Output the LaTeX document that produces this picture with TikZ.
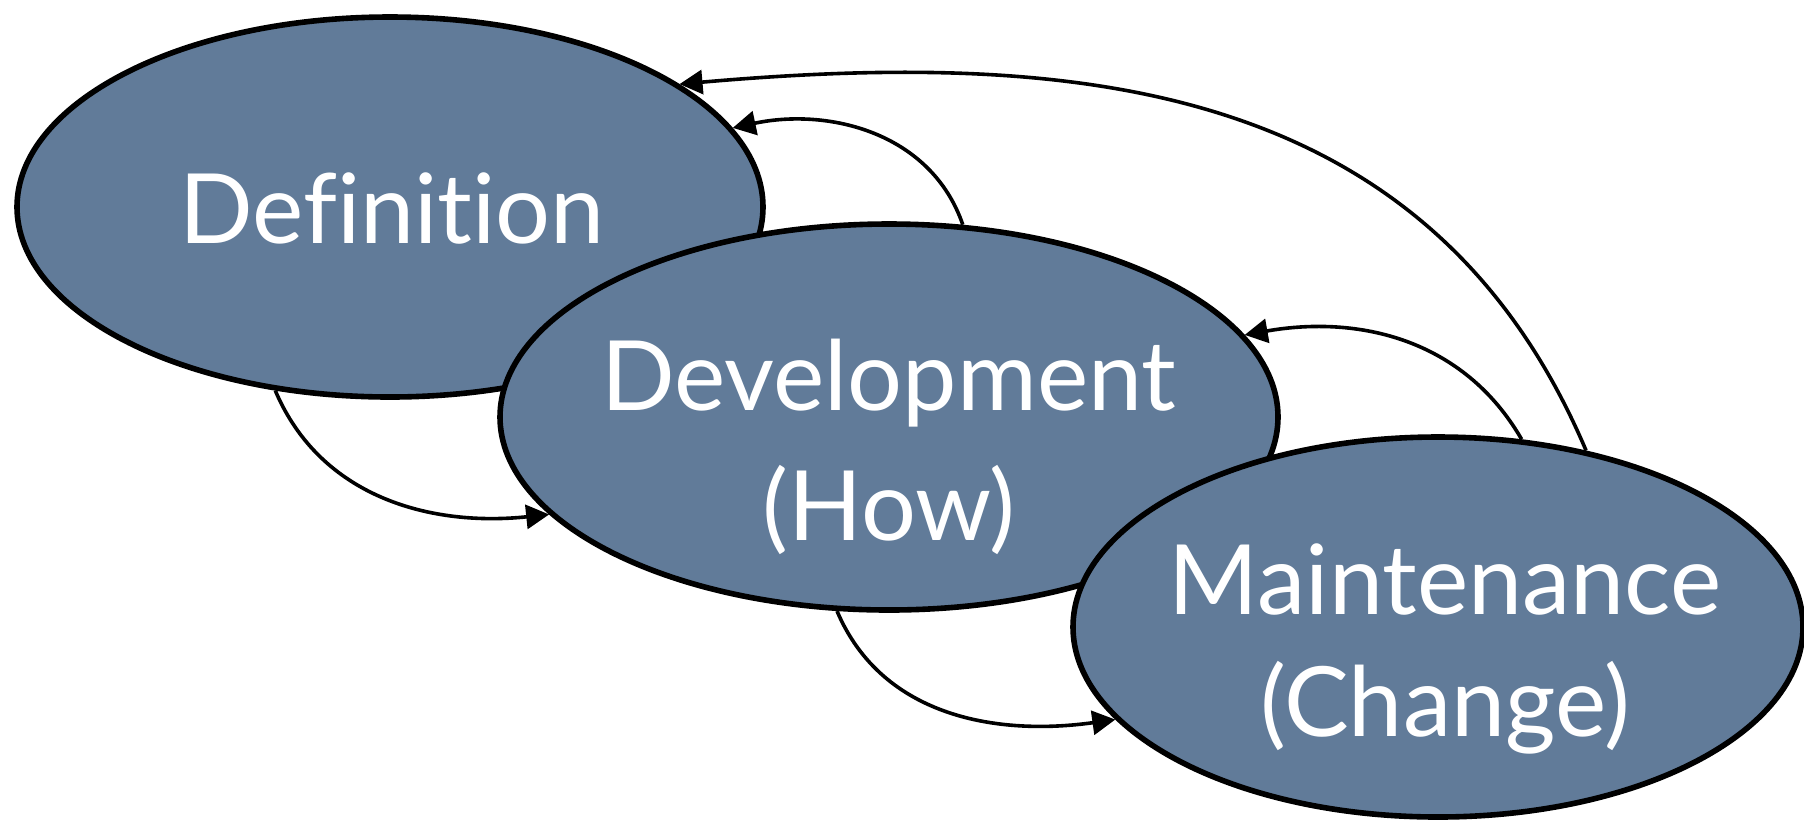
\documentclass[tikz,border=0pt]{standalone}
\usepackage{fontspec}
\setmainfont{Lato}[Ligatures={NoCommon}]
\usetikzlibrary{shapes.geometric,arrows.meta}
\definecolor{phaseblue}{RGB}{97,123,153}

\begin{document}
\begin{tikzpicture}[x=0.5pt,y=-0.5pt,>={Triangle[length=11.5pt,width=12pt]},
		phase/.style={ellipse,draw=black,line width=2.8pt,fill=phaseblue,inner sep=0pt},
		phasetext/.style={text=white,align=center,anchor=base,font=\fontsize{48.5}{64}\selectfont},
		flow/.style={->,line width=1.8pt}]

			\useasboundingbox (0,0) rectangle (1804,821);

			\node [phase,minimum width=373pt,minimum height=190pt] (def) at (390,207) {};
			\node [phasetext] (deflabel) at (392,243) {Definition};

			\node [phase,minimum width=389pt,minimum height=193pt] (dev) at (889,417) {};
			\node [phasetext] (devlabel) at (889,540) {Development\\[1pt](How)};

			\node [phase,minimum width=365pt,minimum height=190pt] (mnt) at (1438,627) {};
			\node [phasetext] (mntlabel) at (1445,736) {Maintenance\\[-3pt](Change)};

			% forward
			\draw [flow] (def.238) to [out=-67,in=186] (dev.196.5);
			\draw [flow] (dev.255.6) to [out=-67,in=188] (mnt.196.7);

			% back
			\draw [flow] (dev.69) to [out=109,in=12] (def.13.6);
			\draw [flow] (mnt.66.4) to [out=120,in=10] (dev.13.6);
			\draw [flow] (mnt.50.6) to [out=113,in=5,looseness=1.05] (def.23.5);
		\end{tikzpicture}
\end{document}
